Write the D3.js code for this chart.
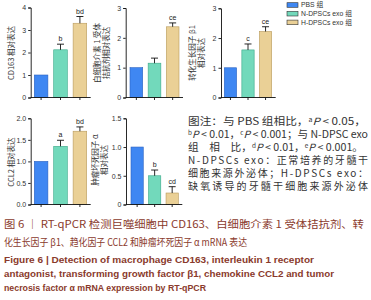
<!DOCTYPE html>
<html lang="en">
    <head>
        <meta charset="utf-8">
        <title>Figure 6</title>
        <script src="https://d3js.org/d3.v7.min.js"></script>
        <style type="text/css">
            body { margin: 0; background: #fff; }
            .tick text { font-family: "Liberation Sans", sans-serif; font-size: 7px; fill: #333; }
            .ylab { font-family: "Noto Sans CJK SC", sans-serif; font-size: 7.5px; fill: #333; }
            .sig { font-family: "Liberation Sans", sans-serif; font-size: 7px; fill: #222; }
            .legend { font-family: "Liberation Sans", "Noto Sans CJK SC", sans-serif; font-size: 6.8px; fill: #333; }
            .note { font-family: "Noto Sans CJK SC", sans-serif; font-size: 10px; fill: #333; }
            .cap { font-family: "Noto Sans CJK SC", sans-serif; font-size: 10px; fill: #8a3a2c; }
            .capEn { font-family: "Liberation Sans", sans-serif; font-size: 9px; font-weight: bold; fill: #8a3a2c; }
        </style>
    </head>
    <body>
        <script type="text/javascript">
            // data
            const groups = ["PBS 组", "N-DPSCs exo 组", "H-DPSCs exo 组"];
            const cd163 = [1.0, 2.12, 3.3];
            const cd163Err = [0, 0.25, 0.3];
            const cd163Sig = ["", "b", "bd"];
            const il1ra = [1.0, 1.15, 2.37];
            const il1raErr = [0, 0.17, 0.13];
            const il1raSig = ["", "", "ce"];
            const tgfb1 = [1.0, 1.6, 2.22];
            const tgfb1Err = [0, 0.2, 0.16];
            const tgfb1Sig = ["", "c", "ce"];
            const ccl2 = [1.0, 1.35, 1.7];
            const ccl2Err = [0, 0.14, 0.1];
            const ccl2Sig = ["", "a", "bd"];
            const tnfa = [1.0, 0.5, 0.2];
            const tnfaErr = [0, 0.1, 0.11];
            const tnfaSig = ["", "b", "cd"];
            const ticks4 = [0, 1, 2, 3, 4];
            const ticks3 = [0, 1, 2, 3];
            const ticks2 = [0, 0.5, 1.0, 1.5, 2.0];
            const ticks15 = [0, 0.5, 1.0, 1.5];

            const fills = ["#3f87f2", "#72d9bb", "#ead096"];
            const strokes = ["#2a62c0", "#3aa888", "#b89a5c"];

            const w = 371, h = 300;
            const svg = d3.select("body").append("svg")
                          .attr("width", w)
                          .attr("height", h);

            // panels
            const panels = [
                {vals: cd163, err: cd163Err, sig: cd163Sig, max: 4, ticks: ticks4, fmt: d3.format("d"),
                 ax: 30.7, y0: 97.5, y1: 7.5, b0: 3.6, b1: 56, lab: ["CD163 相对表达"], lx: 14, ly: 53},
                {vals: il1ra, err: il1raErr, sig: il1raSig, max: 3, ticks: ticks3, fmt: d3.format("d"),
                 ax: 125.7, y0: 97.5, y1: 8, b0: 4.3, b1: 53.3, lab: ["白细胞介素 1 受体", "拮抗剂相对表达"], lx: 101, ly: 53},
                {vals: tgfb1, err: tgfb1Err, sig: tgfb1Sig, max: 3, ticks: ticks3, fmt: d3.format("d"),
                 ax: 221, y0: 97.5, y1: 8.3, b0: 3.3, b1: 50.7, lab: ["转化生长因子 β1", "相对表达"], lx: 196, ly: 53},
                {vals: ccl2, err: ccl2Err, sig: ccl2Sig, max: 2, ticks: ticks2, fmt: d3.format(".1f"),
                 ax: 30.7, y0: 204.5, y1: 118.3, b0: 3.6, b1: 56, lab: ["CCL2 相对表达"], lx: 14, ly: 162},
                {vals: tnfa, err: tnfaErr, sig: tnfaSig, max: 1.5, ticks: ticks15, fmt: v => v === 0 ? "0" : d3.format(".1f")(v),
                 ax: 126, y0: 204.5, y1: 118.3, b0: 5, b1: 52.3, lab: ["肿瘤坏死因子 α", "相对表达"], lx: 99, ly: 160}
            ];

            panels.forEach(p => {
                const g = svg.append("g");
                const y = d3.scaleLinear().domain([0, p.max]).range([p.y0, p.y1]);
                const x = d3.scaleBand().domain(d3.range(3))
                            .range([p.ax + p.b0, p.ax + p.b1])
                            .paddingInner(0.3).paddingOuter(0);

                // bars
                g.selectAll("rect.bar").data(p.vals).enter().append("rect")
                 .attr("class", "bar")
                 .attr("x", (d, i) => x(i))
                 .attr("y", d => y(d))
                 .attr("width", x.bandwidth())
                 .attr("height", d => y(0) - y(d))
                 .attr("fill", (d, i) => fills[i])
                 .attr("stroke", (d, i) => strokes[i])
                 .attr("stroke-width", 0.6);

                // error bars (upper only)
                p.vals.forEach((v, i) => {
                    if (!p.err[i]) return;
                    const cx = x(i) + x.bandwidth() / 2;
                    g.append("line").attr("x1", cx).attr("x2", cx)
                     .attr("y1", y(v)).attr("y2", y(v + p.err[i]))
                     .attr("stroke", "#111").attr("stroke-width", 0.9);
                    g.append("line").attr("x1", cx - 3.5).attr("x2", cx + 3.5)
                     .attr("y1", y(v + p.err[i])).attr("y2", y(v + p.err[i]))
                     .attr("stroke", "#111").attr("stroke-width", 0.9);
                    g.append("text").attr("class", "sig")
                     .attr("x", cx).attr("y", y(v + p.err[i]) - 3)
                     .attr("text-anchor", "middle")
                     .text(p.sig[i]);
                });

                // y axis
                const yAxis = d3.axisLeft(y).tickValues(p.ticks).tickFormat(p.fmt)
                                .tickSize(2.5).tickPadding(2);
                g.append("g").attr("transform", "translate(" + p.ax + ",0)").call(yAxis)
                 .call(a => a.select(".domain").attr("stroke", "#111").attr("stroke-width", 0.9))
                 .call(a => a.selectAll(".tick line").attr("stroke", "#111").attr("stroke-width", 0.9));

                // x axis: line plus small tick under each bar
                const xAxis = d3.axisBottom(x).tickSize(2.5).tickSizeOuter(0).tickFormat("");
                const xa = g.append("g").attr("transform", "translate(0," + p.y0 + ")").call(xAxis);
                xa.select(".domain").attr("d", "M" + p.ax + ",0H" + (p.ax + p.b1 + 4))
                  .attr("stroke", "#111").attr("stroke-width", 0.9);
                xa.selectAll(".tick line").attr("stroke", "#111").attr("stroke-width", 0.9);

                // rotated y label
                const t = g.append("text").attr("class", "ylab")
                           .attr("text-anchor", "middle")
                           .attr("transform", "translate(" + p.lx + "," + p.ly + ") rotate(-90)");
                p.lab.forEach((s, k) => {
                    t.append("tspan").attr("x", 0).attr("dy", k === 0 ? (p.lab.length > 1 ? -1 : 0) : 8.5).text(s);
                });
            });

            // legend
            const leg = svg.append("g");
            groups.forEach((gname, i) => {
                leg.append("rect").attr("x", 287).attr("y", 2.7 + i * 8.7)
                   .attr("width", 11).attr("height", 4.6)
                   .attr("fill", fills[i]).attr("stroke", "#333").attr("stroke-width", 0.6);
                leg.append("text").attr("class", "legend")
                   .attr("x", 301).attr("y", 7.4 + i * 8.7).text(gname);
            });

            // note block
            const notes = [
                [["图注：与 PBS 组相比，"], ["a", "sup"], ["P", "it"], [" < 0.05，"]],
                [["b", "sup"], ["P", "it"], [" < 0.01，"], ["c", "sup"], ["P", "it"], [" < 0.001；与 N-DPSC exo"]],
                [["组　相　比，"], ["d", "sup"], ["P", "it"], [" < 0.01，"], ["e", "sup"], ["P", "it"], [" < 0.001。"]],
                [["N-DPSCs exo：正常培养的牙髓干"]],
                [["细胞来源外泌体；H-DPSCs exo："]],
                [["缺氧诱导的牙髓干细胞来源外泌体"]]
            ];
            const noteLen = [178, 180, 175, 180, 180, 180];
            const noteAdj = ["spacingAndGlyphs", "spacingAndGlyphs", "spacingAndGlyphs", "spacing", "spacing", "spacing"];
            notes.forEach((parts, k) => {
                const t = svg.append("text").attr("class", "note")
                             .attr("x", 188).attr("y", 125 + k * 13)
                             .attr("textLength", noteLen[k]).attr("lengthAdjust", noteAdj[k]);
                parts.forEach(pt => {
                    const s = t.append("tspan").text(pt[0]);
                    if (pt[1] === "sup") s.attr("font-size", "6px").attr("dy", -3.5);
                    if (pt[1] === "it") s.attr("font-style", "italic").attr("dy", 3.5);
                });
            });

            // caption
            const caps = [
                {s: "图 6 ｜ RT-qPCR 检测巨噬细胞中 CD163、白细胞介素 1 受体拮抗剂、转", c: "cap", len: 360},
                {s: "化生长因子 β1、趋化因子 CCL2 和肿瘤坏死因子 α mRNA 表达", c: "cap", len: 243},
                {s: "Figure 6  |  Detection of macrophage CD163, interleukin 1 receptor", c: "capEn", len: 310},
                {s: "antagonist, transforming growth factor β1, chemokine CCL2 and tumor", c: "capEn", len: 330},
                {s: "necrosis factor α mRNA expression by RT-qPCR", c: "capEn", len: 202}
            ];
            const capY = [228, 245.5, 263, 276.5, 291];
            caps.forEach((c, k) => {
                svg.append("text").attr("class", c.c)
                   .attr("x", 4).attr("y", capY[k])
                   .attr("textLength", c.len).attr("lengthAdjust", "spacingAndGlyphs")
                   .text(c.s);
            });
        </script>
    </body>
</html>
